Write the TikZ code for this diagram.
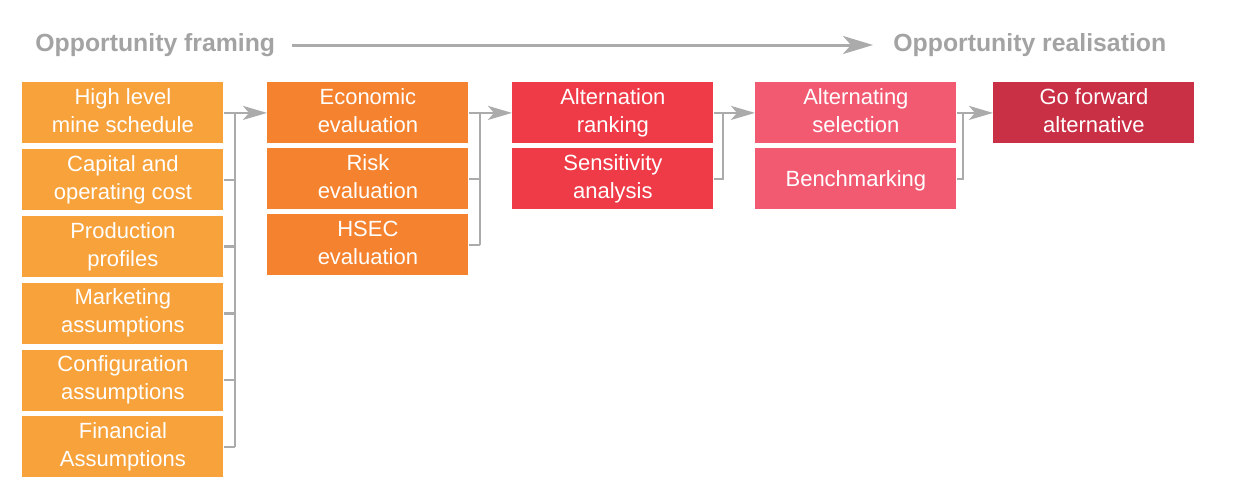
\documentclass[tikz,border=0pt]{standalone}
\usepackage{fontspec}
\setmainfont{Liberation Sans}
\usetikzlibrary{arrows.meta}
\definecolor{cA}{HTML}{F7A23B}
\definecolor{cB}{HTML}{F5822E}
\definecolor{cC}{HTML}{EF3B47}
\definecolor{cD}{HTML}{F25A72}
\definecolor{cE}{HTML}{C92F45}
\definecolor{cG}{HTML}{ABABAB}
\definecolor{cT}{HTML}{A3A3A3}
\tikzset{
  box/.style={anchor=north west, minimum width=100.5pt, minimum height=30.5pt, inner sep=0pt,
    text=white, align=center, font=\fontsize{11}{14}\selectfont,
    execute at begin node={\rule{0pt}{10pt}}, execute at end node={\rule[-2pt]{0pt}{2pt}}},
  conn/.style={draw=cG, line width=1.2pt},
  arr/.style={conn, -{Stealth[length=12pt, width=7pt, inset=3pt]}},
  title/.style={text=cT, font=\fontsize{12.4}{14}\selectfont\bfseries, inner sep=0pt}
}
\begin{document}
\begin{tikzpicture}[x=0.5pt, y=-0.5pt]
\useasboundingbox (0,0) rectangle (1237,484);
\fill[white] (0,0) rectangle (1237,484);
% titles
\node[title, anchor=west] (t1) at (35,45) {Opportunity framing};
\node[title, anchor=west] (t2) at (893,45) {Opportunity realisation};
\draw[draw=cG, line width=1.5pt, -{Stealth[length=15pt, width=9pt, inset=4pt]}] ([xshift=8pt]t1.east) -- ([xshift=-10pt]t2.west);
% column 1
\node[box, fill=cA] (a1) at (22,82) {High level\\mine schedule};
\node[box, fill=cA] (a2) at (22,148.8) {Capital and\\operating cost};
\node[box, fill=cA] (a3) at (22,215.6) {Production\\profiles};
\node[box, fill=cA] (a4) at (22,282.4) {Marketing\\assumptions};
\node[box, fill=cA] (a5) at (22,349.2) {Configuration\\assumptions};
\node[box, fill=cA] (a6) at (22,416) {Financial\\Assumptions};
% column 2
\node[box, fill=cB] (b1) at (267,82) {Economic\\evaluation};
\node[box, fill=cB] (b2) at (267,148) {Risk\\evaluation};
\node[box, fill=cB] (b3) at (267,214) {HSEC\\evaluation};
% column 3
\node[box, fill=cC] (c1) at (512,82) {Alternation\\ranking};
\node[box, fill=cC] (c2) at (512,148) {Sensitivity\\analysis};
% column 4
\node[box, fill=cD] (d1) at (755,82) {Alternating\\selection};
\node[box, fill=cD] (d2) at (755,148) {Benchmarking};
% column 5
\node[box, fill=cE] (e1) at (993,82) {Go forward\\alternative};
% junction coordinates
\coordinate (j1) at (235,0);
\coordinate (j2) at (480,0);
\coordinate (j3) at (723,0);
\coordinate (j4) at (963,0);
% connectors col1 -> col2
\foreach \n in {a2,a3,a4,a5,a6} \draw[conn] (\n.east) -- (\n.east -| j1);
\draw[conn] (a1.east -| j1) -- (a6.east -| j1);
\draw[arr] (a1.east) -- (b1.west);
% col2 -> col3
\foreach \n in {b2,b3} \draw[conn] (\n.east) -- (\n.east -| j2);
\draw[conn] (b1.east -| j2) -- (b3.east -| j2);
\draw[arr] (b1.east) -- (c1.west);
% col3 -> col4
\draw[conn] (c2.east) -- (c2.east -| j3) -- (c1.east -| j3);
\draw[arr] (c1.east) -- (d1.west);
% col4 -> col5
\draw[conn] (d2.east) -- (d2.east -| j4) -- (d1.east -| j4);
\draw[arr] (d1.east) -- (e1.west);
\end{tikzpicture}
\end{document}
